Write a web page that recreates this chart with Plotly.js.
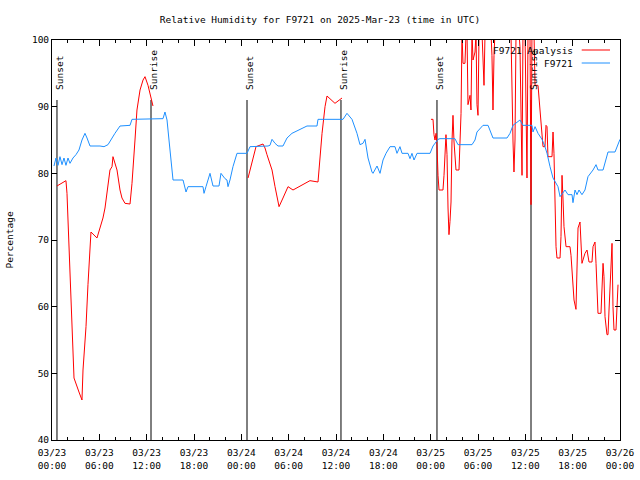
<!DOCTYPE html>
<html>
<head>
<meta charset="utf-8">
<script src="https://cdn.plot.ly/plotly-3.0.1.min.js"></script>
<style>html,body{margin:0;padding:0;background:#fff;}#chart{width:640px;height:480px;}</style>
</head>
<body>
<div id="chart"></div>
<script>
// Hours after 2025-03-23 00:00 UTC
const analysisHours = [
  0.63, 1.77, 1.90, 2.28, 2.66, 2.79, 3.42, 3.80, 3.93, 4.31, 4.56, 4.82, 4.94, 5.70, 6.08, 6.46, 6.72, 6.97,
  7.35, 7.61, 7.73, 8.24, 8.62, 8.87, 9.25, 9.89, 10.14, 10.52, 10.77, 11.16, 11.54, 11.79, 12.17, 12.68, 12.80,
  18.00,
  24.85, 25.35, 25.73, 25.86, 26.75, 27.00, 27.25, 27.89, 28.27, 28.52, 28.78, 29.28, 29.92, 30.55, 31.69, 32.70,
  33.72, 33.97, 34.23, 34.61, 34.86, 35.87, 36.76,
  42.00,
  48.04, 48.30, 48.42, 48.55, 48.68, 48.80, 48.93, 49.06, 49.56, 49.69, 49.94, 50.07, 50.20, 50.32, 50.45, 50.58,
  50.70, 50.83, 50.96, 51.21, 51.59, 51.72, 51.85, 51.97, 52.10, 52.35, 52.48, 52.61, 52.73, 52.86, 52.99, 53.11,
  53.24, 53.37, 53.62, 53.75, 53.87, 54.00, 54.13, 54.51, 54.76, 54.89, 55.65, 55.77, 55.90, 56.03, 56.15, 58.18,
  58.31, 58.44, 58.56, 58.69, 58.82, 59.20, 59.32, 59.58, 59.70, 59.96, 60.21, 60.34, 60.59, 60.72, 60.84, 61.10,
  61.23, 61.61, 61.86, 62.11, 62.24, 62.49, 62.62, 62.75, 62.87, 63.38, 63.51, 63.63, 63.76, 63.89, 64.01, 64.40,
  64.52, 64.65, 64.78, 64.90, 65.16, 65.66, 65.79, 66.04, 66.17, 66.42, 66.55, 66.68, 66.93, 67.06, 67.18, 67.56,
  67.82, 68.07, 68.45, 68.58, 68.71, 68.83, 68.96, 69.08, 69.21, 69.59, 69.72, 69.85, 69.97, 70.10, 70.35, 70.48,
  70.61, 70.86, 70.99, 71.11, 71.24, 71.49, 71.62, 71.75
];
const analysisValues = [
  78.1, 78.9, 77.0, 66.0, 55.0, 49.3, 47.2, 46.0, 50.5, 57.0, 63.3, 69.7, 71.2, 70.3, 71.8, 73.3, 74.8, 76.8,
  80.5, 81.0, 82.5, 80.5, 77.5, 76.3, 75.5, 75.4, 78.5, 85.0, 89.5, 92.5, 94.0, 94.5, 93.2, 90.7, 90.1,
  null,
  79.3, 81.7, 83.8, 84.0, 84.4, 83.8, 82.8, 80.5, 78.0, 76.3, 75.0, 76.3, 78.0, 77.5, 78.3, 78.9,
  78.7, 82.5, 86.0, 90.0, 91.6, 90.5, 91.3,
  null,
  88.1, 88.1, 85.8, 85.0, 86.0, 84.3, 79.7, 77.5, 77.5, 79.7, 85.8, 82.8, 74.8, 70.8, 72.8, 75.7,
  84.7, 88.7, 84.7, 80.5, 80.5, 86.8, 89.0, 101, 96.5, 96.5, 101, 101, 90.3, 91.0, 91.7, 89.5,
  101, 97.0, 98.2, 101, 90.3, 88.7, 101, 101, 93.2, 101, 101, 97.7, 89.5, 97.7, 101, 101,
  90.7, 84.7, 80.2, 85.0, 101, 101, 99.0, 79.7, 101, 101, 79.3, 101, 101, 75.3, 101, 101,
  93.2, 93.2, 89.5, 85.3, 84.0, 84.0, 87.2, 87.0, 82.5, 82.5, 86.2, 83.0, 73.5, 69.0, 67.3, 67.3,
  70.5, 79.7, 76.0, 72.0, 69.0, 69.0, 67.7, 63.5, 61.0, 59.6, 65.0, 71.8, 72.7, 69.5, 66.5, 68.0,
  68.5, 66.7, 66.7, 69.0, 69.5, 69.7, 66.5, 61.5, 59.0, 59.0, 64.0, 66.5, 64.5, 58.5, 55.8, 55.8,
  59.5, 67.5, 69.5, 60.0, 56.5, 56.5, 60.0, 63.3
];
const stationHours = [
  0.25, 0.51, 0.76, 1.01, 1.27, 1.52, 1.77, 2.03, 2.28, 2.66, 3.04, 3.42, 3.80, 4.18, 4.44, 4.82, 6.08, 6.59,
  7.10, 7.48, 7.98, 8.62, 9.25, 9.89, 10.14, 13.69, 14.07, 14.32, 14.58, 14.83, 15.08, 15.34, 16.23, 16.61,
  16.99, 17.24, 19.14, 19.27, 19.52, 20.03, 20.41, 21.17, 21.42, 21.93, 22.18, 22.31, 22.56, 22.94, 23.45, 24.72,
  25.10, 26.37, 27.38, 27.63, 27.89, 28.27, 28.65, 29.28, 29.79, 30.42, 31.44, 32.32, 33.59, 33.72, 36.89, 37.39,
  38.03, 38.41, 38.66, 39.04, 39.42, 39.68, 40.06, 40.56, 40.69, 41.20, 41.58, 41.96, 42.34, 42.85, 43.48, 43.73,
  44.11, 44.37, 45.13, 45.38, 45.63, 45.89, 46.27, 47.92, 48.30, 48.93, 49.18, 51.08, 51.46, 53.24, 53.62, 53.87,
  54.63, 55.27, 55.90, 57.68, 58.06, 58.44, 59.32, 59.70, 60.84, 60.97, 61.23, 61.61, 62.11, 62.49, 62.75, 63.13,
  63.51, 64.14, 64.40, 65.03, 65.41, 65.92, 66.04, 66.30, 66.55, 66.80, 67.18, 67.56, 67.94, 68.58, 68.96, 69.21,
  69.85, 70.48, 71.37, 72.00
];
const stationValues = [
  81.1, 82.3, 81.2, 82.5, 81.3, 82.3, 81.2, 82.3, 81.5, 82.3, 82.8, 83.5, 85.0, 86.0, 85.3, 84.1, 84.1, 84.0,
  84.3, 85.1, 86.0, 87.1, 87.1, 87.2, 88.1, 88.1, 88.2, 89.2, 88.0, 85.0, 82.0, 79.0, 79.0, 79.0,
  77.2, 78.0, 78.0, 77.0, 78.0, 80.0, 78.1, 78.1, 80.0, 79.2, 79.0, 78.0, 79.0, 81.0, 83.0, 83.0,
  84.0, 84.0, 84.1, 84.2, 85.1, 84.5, 84.1, 84.1, 85.3, 86.0, 86.6, 87.1, 87.1, 88.1, 88.1, 89.0,
  88.1, 87.0, 86.0, 84.3, 84.5, 85.1, 82.3, 80.2, 80.0, 81.1, 80.0, 82.0, 83.0, 84.0, 84.0, 83.0,
  84.0, 83.0, 83.0, 82.2, 83.0, 82.0, 83.0, 83.0, 84.1, 85.1, 85.2, 85.2, 84.3, 84.3, 85.0, 86.2,
  87.2, 87.2, 85.3, 85.3, 86.0, 87.2, 88.0, 87.2, 87.2, 86.2, 87.0, 86.0, 85.1, 84.0, 83.0, 81.0,
  79.3, 78.0, 76.5, 77.5, 76.8, 76.8, 75.6, 77.5, 76.8, 77.5, 76.8, 77.5, 79.5, 80.5, 81.3, 80.5,
  80.5, 83.2, 83.2, 85.1
];
const sunHours = [0.63, 12.55, 24.72, 36.63, 48.80, 60.72];
const sunLabels = ['Sunset', 'Sunrise', 'Sunset', 'Sunrise', 'Sunset', 'Sunrise'];
const seriesNames = ['F9721 Analysis', 'F9721'];
const titleText = 'Relative Humidity for F9721 on 2025-Mar-23 (time in UTC)';

const base = Date.UTC(2025, 2, 23, 0, 0, 0);
function toDate(h) {
  if (h === null) return null;
  return new Date(base + Math.round(h * 3600000)).toISOString().slice(0, 19).replace('T', ' ');
}

const FONT = 'DejaVu Sans Mono, Liberation Mono, monospace';
const FS = 9.5;
const RED = '#ff0000';
const BLUE = '#1e90ff';

// Sun marker lines
const sunX = [], sunY = [];
sunHours.forEach(h => { sunX.push(toDate(h), toDate(h), null); sunY.push(40, 91, null); });

const traces = [
  {x: sunX, y: sunY, mode: 'lines', line: {color: '#000', width: 1}, showlegend: false, hoverinfo: 'skip'},
  {x: analysisHours.map(toDate), y: analysisValues, mode: 'lines', name: seriesNames[0],
   line: {color: RED, width: 1}, connectgaps: false},
  {x: stationHours.map(toDate), y: stationValues, mode: 'lines', name: seriesNames[1],
   line: {color: BLUE, width: 1}}
];

const annotations = sunHours.map((h, i) => ({
  x: toDate(h), y: 92.2, xref: 'x', yref: 'y', text: sunLabels[i], showarrow: false,
  textangle: -90, xanchor: 'center', yanchor: 'bottom', xshift: 2,
  font: {family: FONT, size: FS, color: '#000'}
}));
// legend texts (gnuplot style: text left of the sample)
const legY = [0.975, 0.9425];
const legColors = [RED, BLUE];
seriesNames.forEach((n, i) => {
  annotations.push({x: 0.92, y: legY[i], xref: 'paper', yref: 'paper', text: n, showarrow: false,
    xanchor: 'right', yanchor: 'middle', font: {family: FONT, size: FS, color: '#000'}});
});
const shapes = seriesNames.map((n, i) => ({
  type: 'line', xref: 'paper', yref: 'paper', x0: 0.9326, x1: 0.9824, y0: legY[i], y1: legY[i],
  line: {color: legColors[i], width: 1}
}));

const layout = {
  width: 640, height: 480,
  margin: {l: 52, r: 20, t: 40, b: 40, pad: 0},
  paper_bgcolor: '#fff', plot_bgcolor: '#fff',
  showlegend: false,
  font: {family: FONT, size: FS, color: '#000'},
  title: {text: titleText, x: 0.5, xanchor: 'center', y: 0.96, yanchor: 'middle',
          font: {family: FONT, size: FS, color: '#000'}},
  xaxis: {
    type: 'date', range: [toDate(0), toDate(72)],
    tick0: toDate(0), dtick: 6 * 3600000, tickformat: '%m/%d<br>%H:%M',
    ticks: 'inside', ticklen: 6, tickcolor: '#000', tickwidth: 1, ticklabelstandoff: 4,
    minor: {dtick: 2 * 3600000, ticks: 'inside', ticklen: 3, tickcolor: '#000', showgrid: false},
    showline: true, linecolor: '#000', linewidth: 1, mirror: 'ticks',
    showgrid: false, zeroline: false, tickfont: {family: FONT, size: FS, color: '#000'}
  },
  yaxis: {
    range: [40, 100], dtick: 10, tick0: 40,
    ticks: 'inside', ticklen: 5, tickcolor: '#000', tickwidth: 1,
    showline: true, linecolor: '#000', linewidth: 1, mirror: 'ticks',
    showgrid: false, zeroline: false, tickfont: {family: FONT, size: FS, color: '#000'},
    title: {text: 'Percentage', standoff: 16, font: {family: FONT, size: FS, color: '#000'}}
  },
  annotations: annotations,
  shapes: shapes
};

Plotly.newPlot('chart', traces, layout, {staticPlot: true, displayModeBar: false});
</script>
</body>
</html>
